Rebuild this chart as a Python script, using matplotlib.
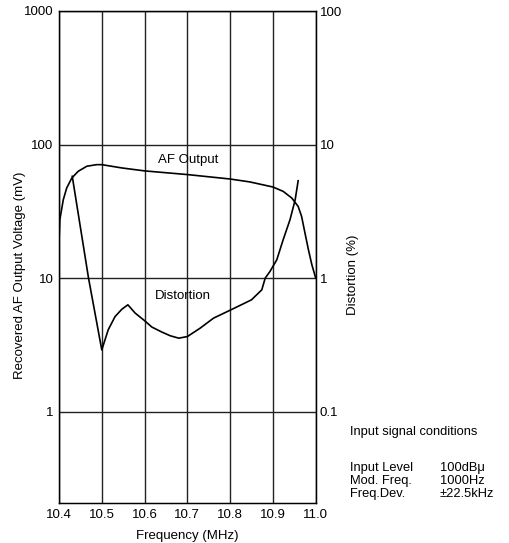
import matplotlib
matplotlib.use("Agg")
import matplotlib.pyplot as plt
import numpy as np

plt.rcParams['font.family'] = ['Liberation Sans', 'DejaVu Sans']

# AF output (mV, left axis)
af_freq = [10.400, 10.402, 10.410, 10.418, 10.430, 10.445, 10.465, 10.488, 10.500,
           10.547, 10.600, 10.700, 10.800, 10.846, 10.900, 10.924, 10.944, 10.959,
           10.967, 10.975, 10.983, 10.991, 11.000]
af_mv = [18.8, 27.4, 38.6, 47.3, 56.2, 63.1, 68.8, 70.7, 70.7,
         66.8, 63.5, 59.6, 55.2, 52.5, 48.1, 44.6, 39.8, 34.4,
         29.0, 21.7, 16.3, 12.6, 10.0]

# Distortion (%, right axis)
dist_freq = [10.431, 10.469, 10.500, 10.515, 10.531, 10.547, 10.561, 10.578, 10.600,
             10.617, 10.640, 10.660, 10.680, 10.700, 10.730, 10.761, 10.800, 10.830,
             10.850, 10.874, 10.882, 10.893, 10.909, 10.924, 10.940, 10.952, 10.959]
dist_pct = [5.78, 1.0, 0.29, 0.41, 0.515, 0.585, 0.631, 0.547, 0.48,
            0.43, 0.395, 0.37, 0.355, 0.365, 0.422, 0.501, 0.575, 0.64,
            0.688, 0.817, 1.0, 1.12, 1.37, 1.94, 2.74, 3.86, 5.36]

x_ticks = [10.4, 10.5, 10.6, 10.7, 10.8, 10.9, 11.0]
x_labels = ['10.4', '10.5', '10.6', '10.7', '10.8', '10.9', '11.0']
left_ticks = [1, 10, 100, 1000]
left_labels = ['1', '10', '100', '1000']
right_ticks = [0.1, 1, 10, 100]
right_labels = ['0.1', '1', '10', '100']

cond_names = ['Input Level', 'Mod. Freq.', 'Freq.Dev.']
cond_values = ['100dBμ', '1000Hz', '±22.5kHz']

fs = 9.5
fs_c = 9.3
W, H = 509, 543
x0, x1, ytop, ybot = 59, 315.7, 11, 503
fig = plt.figure(figsize=(W / 100, H / 100), dpi=100)
ax = fig.add_axes([x0 / W, 1 - ybot / H, (x1 - x0) / W, (ybot - ytop) / H])
ylo, yhi = 0.207, 1000
ax.set_xlim(10.4, 11.0)
ax.set_yscale('log')
ax.set_ylim(ylo, yhi)
ax.set_xticks(x_ticks)
ax.set_xticklabels(x_labels, fontsize=fs)
ax.set_yticks(left_ticks)
ax.set_yticklabels(left_labels, fontsize=fs)
ax.yaxis.set_minor_locator(matplotlib.ticker.NullLocator())
ax.tick_params(length=0, pad=4)
for s in ax.spines.values():
    s.set_linewidth(1.0)
ax.grid(True, which='major', color='#222222', linewidth=1.0)

ax2 = ax.twinx()
ax2.set_yscale('log')
ax2.set_ylim(ylo / 10, yhi / 10)
ax2.set_yticks(right_ticks)
ax2.set_yticklabels(right_labels, fontsize=fs)
ax2.yaxis.set_minor_locator(matplotlib.ticker.NullLocator())
ax2.tick_params(length=0, pad=3)

# Curves
ax.plot(af_freq, af_mv, color='black', linewidth=1.2)
ax2.plot(dist_freq, dist_pct, color='black', linewidth=1.2)

ax.text(10.703, 76, 'AF Output', fontsize=fs, ha='center', va='center')
ax.text(10.69, 7.3, 'Distortion', fontsize=fs, ha='center', va='center')

ax.set_xlabel('Frequency (MHz)', fontsize=fs, labelpad=7)
ax.set_ylabel('Recovered AF Output Voltage (mV)', fontsize=fs)
ax.yaxis.set_label_coords((26 - x0) / (x1 - x0), (ybot - 275) / (ybot - ytop))
ax2.set_ylabel('Distortion (%)', fontsize=fs)
ax2.yaxis.set_label_coords((347 - x0) / (x1 - x0), (ybot - 275) / (ybot - ytop))

fig.text(350 / W, 1 - 432 / H, 'Input signal conditions', fontsize=fs_c, ha='left', va='center')
for i, (n, v) in enumerate(zip(cond_names, cond_values)):
    y = 468 + i * 13.2
    fig.text(350 / W, 1 - y / H, n, fontsize=fs_c, ha='left', va='center')
    fig.text(440 / W, 1 - y / H, v, fontsize=fs_c, ha='left', va='center')

fig.savefig('out.png', dpi=100)
